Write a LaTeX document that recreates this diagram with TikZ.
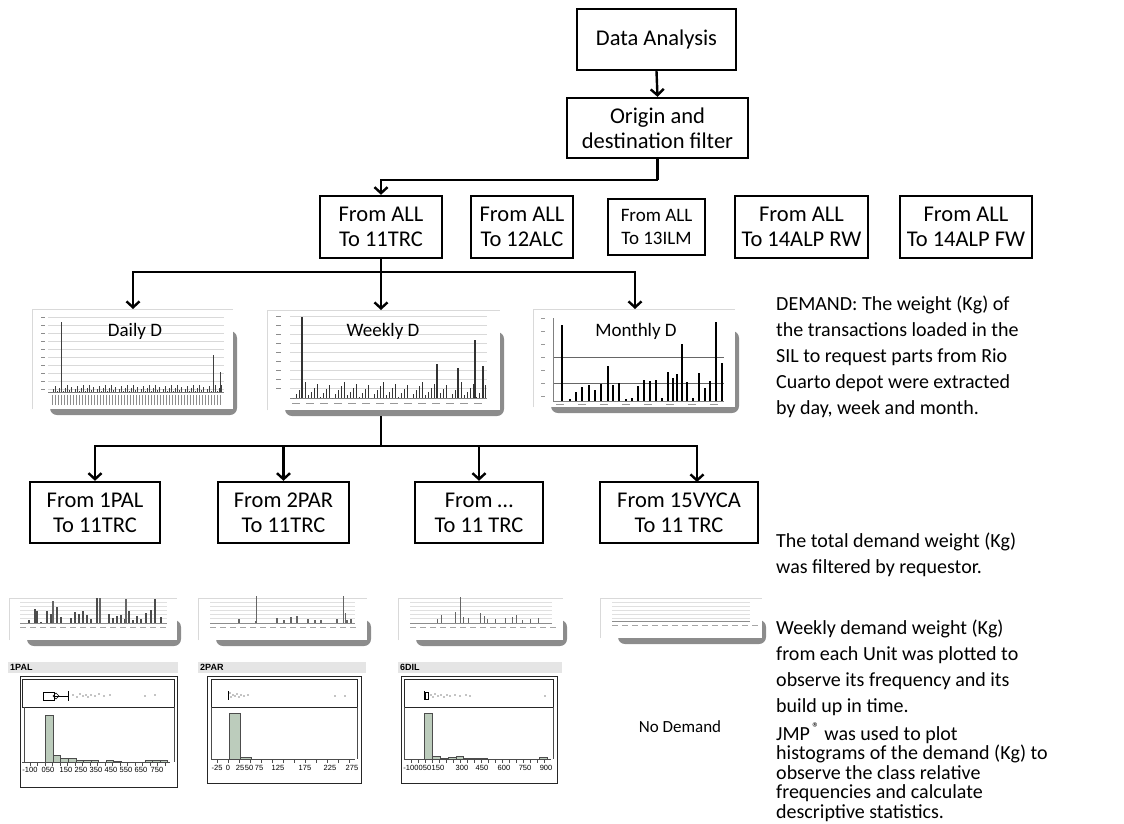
\documentclass[tikz,border=0pt]{standalone}
\usepackage{fontspec}
\setmainfont{Carlito}
\newfontfamily\jmpf{Liberation Sans}
\usetikzlibrary{arrows.meta}
\definecolor{barg}{RGB}{188,204,188}
\newcommand\chartbg[4]{%
  \fill[black!45,rounded corners=7pt] (#1+18,#2+22) rectangle (#3+4,#4+6);
  \fill[white] (#1,#2) rectangle (#3,#4);
  \draw[black!15,line width=0.6pt] (#1,#4) -- (#1,#2) -- (#3,#2);
}
\begin{document}
\begin{tikzpicture}[x=1pt,y=-1pt,
  box/.style={draw,line width=2.4pt,inner sep=0pt,align=center,font=\fontsize{22.5}{25}\selectfont},
  conn/.style={line width=2.4pt},
  arr/.style={line width=2.4pt,-{Straight Barb[length=6pt,width=13pt]}},
  grid/.style={black!15,line width=0.5pt},
  rt/.style={anchor=base west,inner sep=0pt,font=\fontsize{20}{24}\selectfont},
  ax/.style={anchor=north,inner sep=0pt,font=\jmpf\fontsize{7.5}{8}\selectfont},
  hdr/.style={anchor=west,inner sep=0pt,font=\jmpf\bfseries\fontsize{9}{10}\selectfont},
  ttl/.style={inner sep=0pt,font=\fontsize{19}{22}\selectfont},
]
\useasboundingbox (0,0) rectangle (1124,823);

% ---------------- top boxes
\node[box,minimum width=159pt,minimum height=61pt] (da) at (656.5,39.5) {Data Analysis};
\node[box,minimum width=181pt,minimum height=60pt] (od) at (657.5,128) {Origin and\\destination filter};
\node[box,minimum width=122pt,minimum height=62pt] (b1) at (381,227) {From ALL\\To 11TRC};
\node[box,minimum width=102pt,minimum height=62pt] (b2) at (522,227) {From ALL\\To 12ALC};
\node[box,minimum width=97pt,minimum height=56pt,font=\fontsize{19}{23}\selectfont] (b3) at (656.5,227) {From ALL\\To 13ILM};
\node[box,minimum width=133pt,minimum height=62pt] (b4) at (801.5,227) {From ALL\\To 14ALP RW};
\node[box,minimum width=132pt,minimum height=62pt] (b5) at (966,227) {From ALL\\To 14ALP FW};

\draw[arr] (da.south) -- (od.north);
\coordinate (j0) at (657.5,180);
\draw[conn] (od.south) -- (j0);
\draw[arr] (j0) -| (b1.north);

% ---------------- charts row 1
\chartbg{32}{309}{233}{409}
\chartbg{267}{310}{500}{410}
\chartbg{533}{309}{735}{407}
\coordinate (dtop) at (133,309);
\coordinate (wtop) at (381,310);
\coordinate (mtop) at (635,309);
\coordinate (wbot) at (381,416);
\coordinate (j1) at (381,272);
\draw[conn] (b1.south) -- (j1);
\draw[arr] (j1) -| (dtop);
\draw[arr] (j1) -- (wtop);
\draw[arr] (j1) -| (mtop);

% daily chart
\foreach \y in {317,325,...,389} \draw[grid] (48,\y) -- (224,\y);
\foreach \y in {317,325,...,389} \draw[black!45,line width=0.8pt] (41,\y) -- (45,\y);
\draw[black!50,line width=0.6pt] (48,392) -- (224,392);
\foreach \x in {52,55,...,222} \draw[black!45,line width=0.7pt] (\x,395) -- (\x,405);
\foreach \i in {0,...,85} {
  \pgfmathsetmacro\h{mod(\i*37,11)*0.75}
  \fill[black!75] (51+2*\i,392) rectangle ++(1.1,-\h);
}
\fill[black!75] (61,392) rectangle ++(1.3,-70);
\fill[black!75] (213,392) rectangle ++(1.3,-37);
\fill[black!75] (220,392) rectangle ++(1.3,-20);
\node[ttl] (tday) at (135,331) {Daily D};

% weekly chart
\foreach \y in {316,325,...,390} \draw[grid] (290,\y) -- (487,\y);
\foreach \y in {316,325,...,390} \draw[black!45,line width=0.8pt] (276,\y) -- (281,\y);
\draw[black!50,line width=0.6pt] (290,398) -- (487,398);
\foreach \x in {292,306,...,486} \draw[black!40,line width=0.7pt] (\x,403) -- (\x+8,403);
\foreach \i in {0,...,64} {
  \pgfmathsetmacro\h{mod(\i*29,13)*1.3}
  \fill[black!80] (293+3*\i,398) rectangle ++(1.4,-\h);
}
\fill[black!80] (301,398) rectangle ++(1.5,-81);
\fill[black!80] (474,398) rectangle ++(1.5,-58);
\fill[black!80] (482,398) rectangle ++(1.5,-32);
\fill[black!80] (436,398) rectangle ++(1.5,-34);
\fill[black!80] (457,398) rectangle ++(1.5,-30);
\node[ttl] (twk) at (383,331) {Weekly D};

% monthly chart
\foreach \y in {318,331,...,396} \draw[black!40,line width=0.8pt] (541,\y) -- (545,\y);
\draw[black!60,line width=0.7pt] (553,357) -- (724,357);
\draw[black!60,line width=0.7pt] (553,383) -- (724,383);
\draw[black!50,line width=0.6pt] (553,318) -- (553,401) -- (724,401);
\foreach \x/\t in {562/325,570/399,576/392,582/387,589/385,595/390,601/384,608/366,613/385,619/383,626/399,632/398,638/386,644/380,650/381,656/380,662/398,668/372,673/378,677/374,682/344,687/382,693/398,699/373,705/388,710/381,716/322,722/363}
  \fill[black] (\x-1.2,401) rectangle (\x+1.2,\t);
\foreach \x in {556,578,600,622,644,666,688,710} \draw[black!40,line width=0.6pt] (\x,404) -- (\x+8,404);
\node[ttl] (tmon) at (636,331) {Monthly D};

% ---------------- row 2 boxes
\node[box,minimum width=130pt,minimum height=61pt] (c1) at (95,512.5) {From 1PAL\\To 11TRC};
\node[box,minimum width=131pt,minimum height=61pt] (c2) at (283.5,512.5) {From 2PAR\\To 11TRC};
\node[box,minimum width=128pt,minimum height=61pt] (c3) at (479,512.5) {From \dots\\To 11 TRC};
\node[box,minimum width=158pt,minimum height=61pt] (c4) at (679,512.5) {From 15VYCA\\To 11 TRC};
\coordinate (j2) at (381,446);
\coordinate (t4) at (697,482);
\draw[conn] (wbot) -- (j2);
\draw[arr] (j2) -| (c1.north);
\draw[arr] (j2) -| (c2.north);
\draw[arr] (j2) -| (c3.north);
\draw[arr] (j2) -| (t4);

% ---------------- small charts
\chartbg{9}{598}{177}{640}
\chartbg{198}{598}{367}{640}
\chartbg{398}{598}{563}{640}
\chartbg{600}{598}{762}{638}
\foreach \xa/\xb/\b in {20/167/623,210/355/623,410/552/623,612/750/621} {
  \foreach \y in {602,606,...,620} \draw[black!12,line width=0.4pt] (\xa,\y) -- (\xb,\y);
  \draw[black!45,line width=0.5pt] (\xa,\b) -- (\xb,\b);
  \foreach \x in {0,10,...,140} \draw[black!35,line width=0.6pt] (\xa+\x,\b+4) -- (\xa+\x+6,\b+4);
}
% chart 1 bars
\foreach \x/\h in {28/3,34/14,36/12,40/1,46/12,50/9,56/16,60/6,70/5,74/11,78/9,82/12,86/8,90/4,96/25,108/9,112/5,116/7,120/8,124/4,128/12,132/3,136/7,140/4,145/10,150/13,154/24,160/6}
  \fill[black!70] (\x,623) rectangle ++(1.6,-\h);
\fill[black!60] (52,623) rectangle ++(1.6,-22);
\fill[black!60] (99,623) rectangle ++(1.6,-25);
\fill[black!60] (125,623) rectangle ++(1.6,-24);
% chart 2 bars
\foreach \x/\h in {238/4,255/2,276/5,283/3,290/6,296/7,307/4,314/3,320/3,336/4,346/3,350/4}
  \fill[black!60] (\x,623) rectangle ++(1.6,-\h);
\fill[black!60] (256,623) rectangle ++(1.4,-27);
\fill[black!60] (343,623) rectangle ++(1.4,-27);
\fill[black!60] (345,623) rectangle ++(1.4,-10);
% chart 3 bars
\foreach \x/\h in {437/4,441/8,455/11,460/9,463/6,468/5,480/10,484/7,487/4,495/4,505/5,512/6,516/8,522/3,530/4,538/5}
  \fill[black!60] (\x,623) rectangle ++(1.4,-\h);
\fill[black!60] (460,623) rectangle ++(1.4,-26);

% ---------------- JMP histograms
\fill[black!10] (8,662) rectangle (178,673);
\fill[black!10] (198,662) rectangle (366,673);
\fill[black!10] (398,662) rectangle (562,673);
\node[hdr] (h1) at (10,667.5) {1PAL};
\node[hdr] (h2) at (200,667.5) {2PAR};
\node[hdr] (h3) at (400,667.5) {6DIL};
% panel 1
\draw[black!85,line width=0.9pt] (20,676) rectangle (177,787);
\draw[black!85,line width=1pt] (22,679) rectangle (174,707);
\draw[black!70,line width=1pt] (24,707) -- (24,762) (174,707) -- (174,762);
\foreach \a/\b/\t in {45/53/715,53/60/755,60/68/758,68/76/758,76/83/760,83/91/760,91/98/760,106/113/760,113/121/761,145/152/760,152/160/760,160/167/760}
  \filldraw[fill=barg,draw=black!70,line width=0.6pt] (\a,762) rectangle (\b,\t);
\draw[black!70,line width=0.7pt] (22,762) -- (170,762);
\foreach \x in {30,37.5,...,168} \draw[black!70,line width=0.6pt] (\x,762) -- (\x,766);
\foreach \x/\l [count=\k] in {30/-100,48/050,66/150,81/250,96/350,111/450,126/550,141/650,157/750}
  \node[ax] (p1l\k) at (\x,767) {\l};
\draw[line width=0.8pt] (43,692) rectangle (54,700);
\draw[line width=0.6pt] (56,693) -- (59,696) -- (56,699) -- (53,696) -- cycle;
\draw[line width=0.7pt] (54,696) -- (68,696) (68,691) -- (68,701);
\foreach \x/\y in {73/695,77/697,80/694,83/696,86/695,88/697,91/695,95/696,99/694,104/696,110/695,145/696,155/695}
  \fill (\x,\y) circle (0.6);
% panel 2
\draw[black!85,line width=0.9pt] (207,676) rectangle (361,783);
\draw[black!85,line width=1pt] (211,679) rectangle (357,707);
\draw[black!70,line width=1pt] (211,707) -- (211,759) (357,707) -- (357,759);
\foreach \a/\b/\t in {229/240/713,240/251/757,251/262/759,328/340/759,340/351/759}
  \filldraw[fill=barg,draw=black!70,line width=0.6pt] (\a,759) rectangle (\b,\t);
\draw[black!70,line width=0.7pt] (211,759) -- (355,759);
\foreach \x in {217,228,...,355} \draw[black!70,line width=0.6pt] (\x,759) -- (\x,763);
\foreach \x/\l [count=\k] in {217/-25,228/0,240/25,249/50,259/75,278/125,305/175,330/225,352/275}
  \node[ax] (p2l\k) at (\x,765) {\l};
\draw[line width=0.8pt] (228,691) -- (228,700);
\foreach \x/\y in {230/693,231/697,233/695,235/696,237/694,239/697,241/695,244/696,248/695,335/696,345/696}
  \fill (\x,\y) circle (0.6);
% panel 3
\draw[black!85,line width=0.9pt] (401,676) rectangle (557,783);
\draw[black!85,line width=1pt] (404,679) rectangle (553,707);
\draw[black!70,line width=1pt] (404,707) -- (404,759) (553,707) -- (553,759);
\foreach \a/\b/\t in {424/432/713,432/440/756,440/448/758,448/456/757,456/463/756,463/471/758,471/479/758,479/487/758,539/547/757}
  \filldraw[fill=barg,draw=black!70,line width=0.6pt] (\a,759) rectangle (\b,\t);
\draw[black!70,line width=0.7pt] (404,759) -- (551,759);
\foreach \x in {411,418,...,550} \draw[black!70,line width=0.6pt] (\x,759) -- (\x,763);
\foreach \x/\l [count=\k] in {411/-100,425/050,438/150,462/300,482/450,504/600,525/750,546/900}
  \node[ax] (p3l\k) at (\x,765) {\l};
\draw[line width=0.9pt] (424,691) -- (424,700);
\draw[line width=0.6pt] (425,692) rectangle (428,699);
\foreach \x/\y in {431/695,433/697,435/694,438/696,441/695,444/697,447/695,450/696,455/695,460/696,466/695,470/696,545/696}
  \fill (\x,\y) circle (0.6);

\node[inner sep=0pt,font=\fontsize{17}{20}\selectfont] (nd) at (680,727) {No Demand};

% ---------------- right texts
\foreach \t [count=\i] in {DEMAND: The weight (Kg) of,the transactions loaded in the,SIL to request parts from Rio,Cuarto depot were extracted,{by day, week and month.}}
  \node[rt] (ra\i) at (776,284+26*\i) {\t};
\foreach \t [count=\i] in {The total demand weight (Kg),was filtered by requestor.}
  \node[rt] (rb\i) at (776,521+26*\i) {\t};
\foreach \t [count=\i] in {Weekly demand weight (Kg),from each Unit was plotted to,observe its frequency and its,build up in time.}
  \node[rt] (rc\i) at (776,608+26*\i) {\t};
\foreach \t [count=\i] in {JMP\textsuperscript{\,®} was used to plot,histograms of the demand (Kg) to,observe the class relative,frequencies and calculate,descriptive statistics.}
  \node[rt] (rd\i) at (776,720.5+19.5*\i) {\t};
\end{tikzpicture}
\end{document}
